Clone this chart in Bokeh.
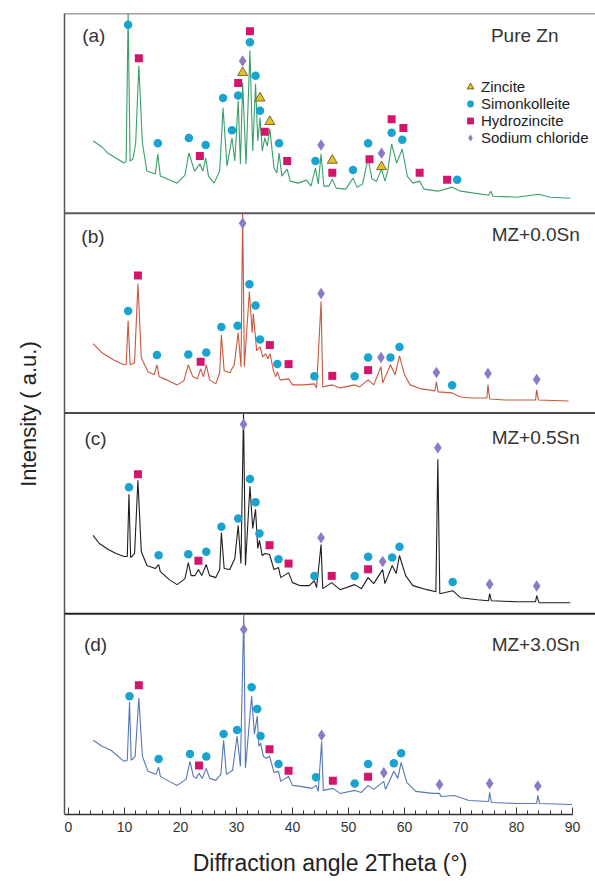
from bokeh.plotting import figure
from bokeh.models import Range1d, FixedTicker, Span, Label, Legend, LegendItem
from bokeh.embed import file_html
from bokeh.resources import INLINE

# ---------------- data (2Theta in degrees, intensity in a.u. above each panel's base) ----------------
# (a) Pure Zn
a_x = [4.4, 6, 7, 9.9, 10.3, 10.65, 11.0, 11.5, 12.0, 12.56, 13.2, 14.0, 15.5, 15.95, 16.4, 19.4, 20.8, 21.5, 22.5,
       23.45, 24.0, 24.5, 25.0, 26.0, 27.0, 27.6, 28.3, 29.2, 29.7, 30.3, 30.7, 31.1, 31.7, 32.4, 32.9, 33.4, 33.8,
       34.2, 34.6, 35.05, 35.5, 35.95, 36.7, 37.2, 37.6, 38.1, 39.05, 39.6, 41.0, 42.5, 43.3, 44.1, 44.6, 45.1, 45.6,
       46.5, 47.1, 47.8, 49.5, 50.8, 51.5, 52.5, 53.5, 54.2, 55.0, 55.9, 56.5, 57.0, 57.7, 58.6, 59.6, 60.5, 61.5,
       62.7, 63.5, 66.0, 68.5, 70.0, 75.0, 75.4, 75.8, 80.0, 84.0, 86.0, 89.6]
a_y = [72, 66, 60, 50, 52, 199, 52, 54, 70, 147, 70, 42, 39, 59, 37, 30, 38, 60, 42,
       49, 42, 55, 37, 30, 42, 105, 47, 75, 52, 112, 49, 130, 49, 162, 62, 129, 72,
       95, 62, 75, 67, 84, 45, 40, 60, 37, 44, 32, 30, 33, 27, 45, 29, 59, 27,
       27, 34, 25, 24, 35, 26, 29, 55, 34, 32, 44, 32, 42, 69, 50, 64, 37, 30,
       32, 24, 22, 26, 22, 18, 22, 17, 16, 19, 16, 15]
# (b) MZ+0.0Sn
b_x = [4.4, 6, 8, 9.9, 10.3, 10.65, 11.0, 11.8, 12.4, 13.0, 14.2, 15.3, 15.8, 16.2, 17.5, 19.4, 20.6, 21.4, 22.2,
       23.0, 23.6, 24.1, 24.6, 25.2, 26.3, 27.0, 27.3, 27.8, 28.8, 29.6, 30.3, 30.8, 31.1, 31.4, 32.3, 32.8, 33.0,
       33.6, 34.2, 34.7, 35.2, 35.6, 36.0, 36.6, 37.0, 37.3, 37.8, 39.3, 40.0, 42.0, 43.9, 44.3, 45.1, 45.4, 47.1,
       48.5, 51.1, 52.0, 53.5, 54.5, 55.8, 56.1, 57.5, 58.3, 59.1, 60.0, 61.0, 63.0, 65.4, 65.7, 66.0, 68.5, 70.0,
       72.0, 74.7, 74.9, 75.2, 78.0, 83.4, 83.6, 83.9, 89.3]
b_y = [69, 60, 53, 48, 48, 92, 48, 50, 129, 55, 41, 38, 48, 36, 33, 28, 32, 48, 36,
       34, 44, 36, 48, 33, 29, 40, 78, 42, 40, 48, 80, 46, 199, 46, 121, 80, 99,
       62, 66, 56, 59, 54, 59, 42, 36, 41, 33, 34, 28, 28, 29, 25, 111, 26, 28,
       25, 28, 26, 33, 28, 46, 30, 48, 38, 57, 38, 28, 24, 22, 31, 21, 20, 16,
       15, 15, 28, 14, 13, 13, 23, 13, 12]
# (c) MZ+0.5Sn
c_x = [4.4, 5.5, 7.1, 8.5, 9.9, 10.5, 10.8, 11.1, 11.8, 12.4, 13.0, 14.0, 15.5, 16.1, 16.4, 18.0, 19.4, 20.8, 21.4,
       21.9, 22.6, 23.2, 23.8, 24.6, 25.2, 26.3, 27.0, 27.3, 27.8, 28.8, 29.7, 30.3, 30.8, 31.25, 31.6, 32.4, 32.9,
       33.4, 33.8, 34.1, 34.6, 35.1, 35.9, 36.7, 37.5, 37.9, 39.3, 40.0, 41.4, 43.0, 43.9, 44.3, 45.1, 45.4, 47.0,
       48.5, 51.1, 52.3, 53.5, 54.5, 56.1, 56.5, 57.8, 58.5, 59.1, 60.2, 61.5, 64.0, 65.6, 65.95, 66.3, 68.6, 70.0,
       73.0, 75.0, 75.2, 75.5, 80.0, 83.4, 83.6, 84.0, 89.6]
c_y = [78, 70, 64, 60, 57, 57, 119, 56, 60, 133, 62, 48, 45, 49, 42, 34, 29, 35, 51,
       38, 38, 44, 38, 49, 38, 36, 44, 81, 45, 44, 55, 88, 50, 199, 48, 127, 85,
       104, 65, 73, 58, 60, 59, 44, 46, 36, 41, 31, 28, 28, 33, 26, 69, 25, 31,
       24, 29, 25, 36, 30, 44, 30, 48, 40, 58, 38, 28, 24, 22, 154, 20, 23, 16,
       14, 13, 20, 13, 12, 12, 18, 11, 11]
# (d) MZ+3.0Sn
d_x = [4.4, 6, 7.6, 9.9, 10.5, 10.9, 11.2, 11.9, 12.56, 13.2, 14.2, 15.6, 16.1, 16.4, 18.0, 19.4, 21.0, 21.7, 22.3,
       22.8, 23.3, 23.9, 24.6, 25.2, 26.3, 27.2, 27.7, 28.2, 29.3, 30.1, 30.7, 31.3, 31.6, 32.7, 33.2, 33.7, 34.0,
       34.3, 34.8, 35.3, 35.9, 36.7, 37.5, 37.9, 39.3, 40.0, 41.4, 43.5, 44.2, 44.6, 45.2, 45.5, 47.2, 48.5, 51.1,
       52.3, 53.5, 54.5, 56.3, 56.6, 58.1, 58.8, 59.4, 60.4, 62.0, 65.0, 66.25, 66.5, 68.9, 71.5, 75.0, 75.2, 75.5,
       80.0, 83.6, 83.8, 84.1, 89.9]
d_y = [74, 68, 64, 53, 54, 112, 54, 58, 116, 58, 43, 40, 47, 38, 33, 29, 35, 53, 38,
       36, 41, 36, 46, 36, 34, 40, 74, 40, 44, 78, 48, 199, 46, 118, 80, 98, 68,
       71, 58, 56, 58, 42, 43, 33, 38, 29, 28, 26, 29, 23, 73, 24, 26, 21, 24,
       22, 29, 25, 33, 25, 43, 36, 52, 32, 23, 21, 21, 18, 19, 14, 13, 22, 12,
       11, 11, 19, 11, 10]

# phase markers: (2Theta, intensity above panel base)
a_zin_x = [31.1, 34.2, 35.95, 47.1, 55.9]
a_zin_y = [140, 114.7, 91.3, 52.7, 46.3]
a_sim_x = [10.65, 15.95, 21.5, 24.5, 27.6, 29.2, 30.3, 32.4, 33.4, 34.2, 37.6, 44.1, 50.8, 53.5, 57.7, 59.6, 69.4]
a_sim_y = [187.7, 69.7, 75, 68, 114.7, 82.7, 117.3, 170.3, 137, 102, 69.7, 52, 43, 69.7, 80.3, 73.3, 33.3]
a_hyd_x = [12.56, 23.45, 30.3, 32.4, 35.05, 39.05, 47.1, 53.75, 57.7, 59.8, 62.7, 67.6]
a_hyd_y = [154.3, 57, 129.7, 181.3, 81.3, 52, 40.3, 53.7, 93.7, 85, 40.3, 33.3]
a_nacl_x = [31.1, 45.1, 55.9]
a_nacl_y = [151.7, 68, 59.7]

b_sim_x = [10.65, 15.8, 21.4, 24.6, 27.3, 30.2, 32.3, 33.4, 34.2, 37.3, 43.9, 51.1, 53.5, 57.5, 59.1, 68.5]
b_sim_y = [101.7, 57.7, 58.3, 60.3, 85.7, 87, 128.3, 107, 73.3, 48.7, 36.5, 36.7, 55.3, 55.3, 65.7, 27.7]
b_hyd_x = [12.4, 23.6, 35.95, 39.3, 47.1, 53.5]
b_hyd_y = [137, 51, 67.7, 48.7, 37, 42.7]
b_nacl_x = [31.1, 45.1, 55.8, 65.7, 74.9, 83.6]
b_nacl_y = [189, 119, 55.3, 40.3, 39.3, 33.3]

c_sim_x = [10.8, 16.1, 21.4, 24.6, 27.3, 30.3, 32.4, 33.4, 34.1, 37.5, 43.9, 51.1, 53.5, 57.8, 59.1, 68.6]
c_sim_y = [126, 58.3, 59.3, 61.7, 86.7, 95, 134.3, 111, 80, 54.3, 37.7, 37.7, 56.7, 56, 66.7, 31.7]
c_hyd_x = [12.4, 23.2, 35.9, 39.3, 47.0, 53.5]
c_hyd_y = [139, 52.7, 68.3, 50, 37.7, 44.3]
c_nacl_x = [31.25, 45.1, 56.1, 65.95, 75.2, 83.6]
c_nacl_y = [188.7, 75.7, 52, 165.3, 29.3, 27.7]

d_sim_x = [10.9, 16.1, 21.7, 24.6, 27.7, 30.1, 32.7, 33.7, 34.3, 37.5, 44.2, 51.1, 53.5, 58.1, 59.4]
d_sim_y = [117.7, 55.3, 60.3, 57.7, 80.3, 84.3, 126.7, 105, 78.3, 50.3, 37, 31, 50.3, 51, 61]
d_hyd_x = [12.56, 23.3, 35.9, 39.3, 47.2, 53.5]
d_hyd_y = [128.7, 48.7, 65, 43.7, 33.7, 37.7]
d_nacl_x = [31.3, 45.2, 56.3, 66.25, 75.2, 83.8]
d_nacl_y = [184.3, 79, 41.7, 30, 31, 28.3]

panel_names = ["(a)", "(b)", "(c)", "(d)"]
sample_names = ["Pure Zn", "MZ+0.0Sn", "MZ+0.5Sn", "MZ+3.0Sn"]
phase_names = ["Zincite", "Simonkolleite", "Hydrozincite", "Sodium chloride"]
x_ticks = [0, 10, 20, 30, 40, 50, 60, 70, 80, 90]

# ---------------- layout / style ----------------
FONT = "Liberation Sans"
offsets = [599, 400, 200, 0]          # base of each stacked panel
line_colors = ["#3a9f6b", "#c45a3f", "#1e1e1e", "#5577b3"]

p = figure(width=595, height=878, output_backend="svg", toolbar_location=None,
           x_range=Range1d(-0.71, 94.1), y_range=Range1d(0, 798),
           min_border_left=64, min_border_right=0, min_border_top=13, min_border_bottom=10)
p.grid.visible = False
p.outline_line_color = None
p.background_fill_color = "white"

def shift(vals, off):
    return [v + off for v in vals]

curves = [(a_x, a_y), (b_x, b_y), (c_x, c_y), (d_x, d_y)]
for (xs, ys), off, col in zip(curves, offsets, line_colors):
    p.line(xs, shift(ys, off), line_color=col, line_width=1.1)

zin_x = a_zin_x
zin_y = shift(a_zin_y, offsets[0])
sim_x = a_sim_x + b_sim_x + c_sim_x + d_sim_x
sim_y = (shift(a_sim_y, offsets[0]) + shift(b_sim_y, offsets[1]) +
         shift(c_sim_y, offsets[2]) + shift(d_sim_y, offsets[3]))
hyd_x = a_hyd_x + b_hyd_x + c_hyd_x + d_hyd_x
hyd_y = (shift(a_hyd_y, offsets[0]) + shift(b_hyd_y, offsets[1]) +
         shift(c_hyd_y, offsets[2]) + shift(d_hyd_y, offsets[3]))
nacl_x = a_nacl_x + b_nacl_x + c_nacl_x + d_nacl_x
nacl_y = (shift(a_nacl_y, offsets[0]) + shift(b_nacl_y, offsets[1]) +
          shift(c_nacl_y, offsets[2]) + shift(d_nacl_y, offsets[3]))

r_zin = p.scatter(zin_x, zin_y, marker="triangle", size=10, fill_color="#e6c027", line_color="#5b4a12", line_width=0.8)
r_sim = p.scatter(sim_x, sim_y, marker="circle", size=8.5, fill_color="#1aa3cf", line_color=None)
r_hyd = p.scatter(hyd_x, hyd_y, marker="square", size=8, fill_color="#d3156c", line_color=None)
r_nacl = p.scatter(nacl_x, nacl_y, marker="diamond", size=11.5, fill_color="#8a7bc9", line_color=None)

legend = Legend(items=[LegendItem(label=n, renderers=[r]) for n, r in
                       zip(phase_names, [r_zin, r_sim, r_hyd, r_nacl])],
                location=(396, 668), border_line_color=None, background_fill_alpha=0,
                label_text_font=FONT, label_text_font_size="15px", label_text_color="#222222",
                glyph_width=20, glyph_height=17, label_height=14, spacing=0, padding=0, margin=0,
                label_standoff=1)
p.add_layout(legend)

# panel frames
p.add_layout(Span(location=798, dimension="width", line_color="#444444", line_width=1.5))
for loc, w, c in [(599, 2, "#5a5a5a"), (400, 2, "#4a4a4a"), (200, 2, "#222222")]:
    p.add_layout(Span(location=loc, dimension="width", line_color=c, line_width=w))

# panel texts
left_pos = [(2.45, 776), (2.3, 576), (2.85, 374.5), (2.75, 169.5)]
right_pos = [(87.5, 776), (91.3, 577.5), (91.3, 376), (91.3, 169.5)]
for name, (lx, ly) in zip(panel_names, left_pos):
    p.add_layout(Label(x=lx, y=ly, text=name, text_font=FONT, text_font_size="19px",
                       text_color="#333333", text_baseline="middle", text_align="left"))
for name, (rx, ry) in zip(sample_names, right_pos):
    p.add_layout(Label(x=rx, y=ry, text=name, text_font=FONT, text_font_size="19px",
                       text_color="#333333", text_baseline="middle", text_align="right"))

# axes
xa = p.xaxis[0]
xa.ticker = FixedTicker(ticks=x_ticks, minor_ticks=list(range(0, 91, 2)))
xa.bounds = (-0.71, 90)
xa.axis_line_color = "#333333"
xa.axis_line_width = 1.5
xa.major_tick_in = 7
xa.major_tick_out = 0
xa.minor_tick_in = 4
xa.minor_tick_out = 0
xa.major_tick_line_color = "#333333"
xa.minor_tick_line_color = "#333333"
xa.major_label_text_font = FONT
xa.major_label_text_font_size = "14px"
xa.major_label_text_color = "#333333"
xa.major_label_standoff = 7
xa.axis_label = "Diffraction angle 2Theta (°)"
xa.axis_label_text_font = FONT
xa.axis_label_text_font_size = "23px"
xa.axis_label_text_font_style = "normal"
xa.axis_label_text_color = "#222222"
xa.axis_label_standoff = 15

ya = p.yaxis[0]
ya.ticker = FixedTicker(ticks=[])
ya.axis_line_color = "#555555"
ya.axis_line_width = 1.5
ya.major_tick_line_color = None
ya.minor_tick_line_color = None
ya.major_label_text_font_size = "0px"
ya.axis_label = "Intensity ( a.u.)"
ya.axis_label_text_font = FONT
ya.axis_label_text_font_size = "22px"
ya.axis_label_text_font_style = "normal"
ya.axis_label_text_color = "#222222"
ya.axis_label_standoff = 24

open("out.html", "w").write(file_html(p, INLINE))
